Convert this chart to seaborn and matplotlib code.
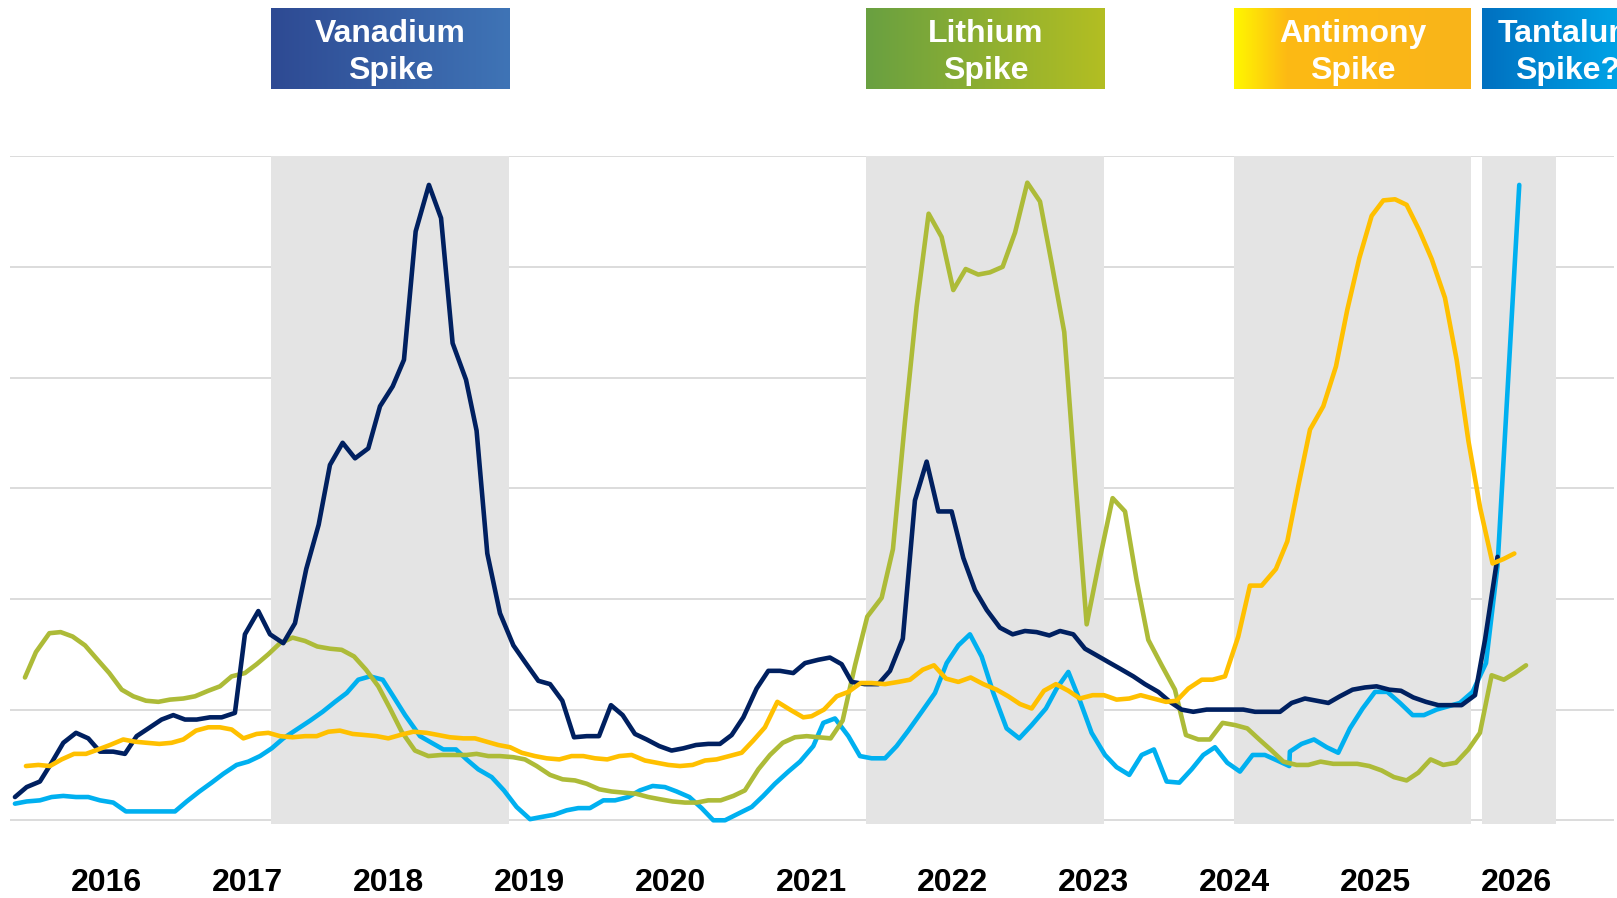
import numpy as np
import pandas as pd
import matplotlib
matplotlib.use("Agg")
import matplotlib.pyplot as plt
from matplotlib import font_manager
from matplotlib.colors import LinearSegmentedColormap
import seaborn as sns

# price index readings (x in fractional years, y in chart units 0..6)
vanadium_x = [2015.353, 2015.436, 2015.530, 2015.613, 2015.696, 2015.786, 2015.873, 2015.956,
              2016.050, 2016.133, 2016.216, 2016.299, 2016.393, 2016.476, 2016.559, 2016.642, 2016.736, 2016.819, 2016.913, 2016.984,
              2017.079, 2017.162, 2017.256, 2017.339, 2017.419, 2017.507, 2017.587, 2017.677, 2017.765, 2017.859, 2017.942,
              2018.032, 2018.112, 2018.195, 2018.289, 2018.375, 2018.457, 2018.552, 2018.627, 2018.703, 2018.793, 2018.888, 2018.970,
              2019.065, 2019.148, 2019.235, 2019.318, 2019.408, 2019.495, 2019.580, 2019.663, 2019.750, 2019.833, 2019.923,
              2020.010, 2020.093, 2020.183, 2020.270, 2020.353, 2020.436, 2020.519, 2020.613, 2020.696, 2020.779, 2020.873, 2020.956,
              2021.051, 2021.133, 2021.216, 2021.287, 2021.380, 2021.476, 2021.559, 2021.650, 2021.736, 2021.819, 2021.902, 2021.996,
              2022.079, 2022.162, 2022.245, 2022.339, 2022.429, 2022.516, 2022.599, 2022.689, 2022.765, 2022.859, 2022.942,
              2023.025, 2023.107, 2023.190, 2023.285, 2023.367, 2023.462, 2023.545, 2023.627, 2023.710, 2023.805, 2023.899, 2023.982,
              2024.065, 2024.148, 2024.230, 2024.325, 2024.408, 2024.502, 2024.585, 2024.668, 2024.750, 2024.840, 2024.928,
              2025.010, 2025.100, 2025.183, 2025.270, 2025.360, 2025.448, 2025.530, 2025.613, 2025.708, 2025.779, 2025.868]
vanadium_v = [0.21, 0.30, 0.35, 0.52, 0.70, 0.79, 0.74, 0.62,
              0.62, 0.60, 0.76, 0.83, 0.91, 0.95, 0.91, 0.91, 0.93, 0.93, 0.97, 1.68,
              1.89, 1.68, 1.60, 1.78, 2.27, 2.67, 3.21, 3.41, 3.27, 3.36, 3.74,
              3.92, 4.16, 5.32, 5.74, 5.44, 4.31, 3.98, 3.52, 2.41, 1.87, 1.58, 1.43,
              1.26, 1.23, 1.08, 0.75, 0.76, 0.76, 1.04, 0.95, 0.78, 0.73, 0.67,
              0.63, 0.65, 0.68, 0.69, 0.69, 0.77, 0.93, 1.19, 1.35, 1.35, 1.33, 1.42,
              1.45, 1.47, 1.41, 1.25, 1.23, 1.23, 1.35, 1.64, 2.89, 3.24, 2.79, 2.79,
              2.37, 2.08, 1.90, 1.74, 1.68, 1.71, 1.70, 1.67, 1.71, 1.68, 1.55,
              1.49, 1.43, 1.37, 1.30, 1.23, 1.16, 1.07, 1.00, 0.98, 1.00, 1.00, 1.00,
              1.00, 0.98, 0.98, 0.98, 1.06, 1.10, 1.08, 1.06, 1.12, 1.18, 1.20,
              1.21, 1.18, 1.17, 1.11, 1.07, 1.04, 1.04, 1.04, 1.13, 1.63, 2.38]

lithium_x = [2015.424, 2015.502, 2015.597, 2015.677, 2015.762, 2015.850, 2015.932,
             2016.022, 2016.110, 2016.192, 2016.282, 2016.370, 2016.452, 2016.547, 2016.630, 2016.724, 2016.807, 2016.890, 2016.984,
             2017.067, 2017.150, 2017.233, 2017.322, 2017.410, 2017.497, 2017.587, 2017.670, 2017.758, 2017.843, 2017.930,
             2018.013, 2018.096, 2018.190, 2018.285, 2018.379, 2018.474, 2018.556, 2018.627, 2018.710, 2018.793, 2018.887, 2018.970,
             2019.053, 2019.148, 2019.237, 2019.325, 2019.408, 2019.497, 2019.585, 2019.668, 2019.757, 2019.845, 2019.928,
             2020.017, 2020.105, 2020.188, 2020.270, 2020.358, 2020.448, 2020.530, 2020.625, 2020.708, 2020.798, 2020.885, 2020.968,
             2021.051, 2021.138, 2021.223, 2021.311, 2021.398, 2021.500, 2021.580, 2021.665, 2021.748, 2021.833, 2021.925,
             2022.008, 2022.096, 2022.185, 2022.268, 2022.358, 2022.446, 2022.533, 2022.623, 2022.706, 2022.795, 2022.875, 2022.954,
             2023.045, 2023.138, 2023.226, 2023.308, 2023.391, 2023.486, 2023.580, 2023.658, 2023.746, 2023.828, 2023.918,
             2024.006, 2024.093, 2024.178, 2024.266, 2024.349, 2024.443, 2024.526, 2024.613, 2024.703, 2024.786, 2024.873, 2024.958,
             2025.046, 2025.133, 2025.223, 2025.306, 2025.393, 2025.483, 2025.573, 2025.661, 2025.743, 2025.826, 2025.913, 2025.991,
             2026.070]
lithium_v = [1.29, 1.52, 1.69, 1.70, 1.66, 1.58, 1.46,
             1.33, 1.18, 1.12, 1.08, 1.07, 1.09, 1.10, 1.12, 1.17, 1.21, 1.30, 1.33,
             1.41, 1.50, 1.60, 1.65, 1.62, 1.57, 1.55, 1.54, 1.48, 1.36, 1.21,
             1.01, 0.80, 0.63, 0.58, 0.59, 0.59, 0.59, 0.60, 0.58, 0.58, 0.57, 0.55,
             0.49, 0.41, 0.37, 0.36, 0.33, 0.28, 0.26, 0.25, 0.24, 0.21, 0.19,
             0.17, 0.16, 0.16, 0.18, 0.18, 0.22, 0.27, 0.46, 0.59, 0.70, 0.75, 0.76,
             0.75, 0.74, 0.90, 1.40, 1.84, 2.01, 2.45, 3.60, 4.64, 5.48, 5.27,
             4.79, 4.98, 4.93, 4.95, 5.00, 5.31, 5.76, 5.59, 5.03, 4.41, 3.05, 1.77,
             2.35, 2.91, 2.79, 2.17, 1.63, 1.40, 1.18, 0.77, 0.73, 0.73, 0.88,
             0.86, 0.83, 0.73, 0.63, 0.53, 0.50, 0.50, 0.53, 0.51, 0.51, 0.51, 0.49,
             0.45, 0.39, 0.36, 0.43, 0.55, 0.50, 0.52, 0.64, 0.79, 1.31, 1.27, 1.33,
             1.40]

antimony_x = [2015.431, 2015.519, 2015.601, 2015.684, 2015.772, 2015.857, 2015.944,
              2016.027, 2016.121, 2016.204, 2016.287, 2016.377, 2016.464, 2016.547, 2016.637, 2016.724, 2016.807, 2016.890, 2016.973,
              2017.067, 2017.150, 2017.233, 2017.322, 2017.410, 2017.493, 2017.576, 2017.658, 2017.748, 2017.835, 2017.918,
              2018.001, 2018.084, 2018.178, 2018.273, 2018.356, 2018.438, 2018.533, 2018.616, 2018.698, 2018.781, 2018.864, 2018.947,
              2019.041, 2019.124, 2019.214, 2019.301, 2019.384, 2019.467, 2019.554, 2019.639, 2019.727, 2019.821, 2019.904, 2019.987,
              2020.069, 2020.159, 2020.247, 2020.329, 2020.419, 2020.507, 2020.589, 2020.672, 2020.760, 2020.849, 2020.944,
              2021.003, 2021.091, 2021.181, 2021.264, 2021.351, 2021.429, 2021.524, 2021.618, 2021.701, 2021.791, 2021.871, 2021.956,
              2022.044, 2022.131, 2022.221, 2022.315, 2022.398, 2022.481, 2022.564, 2022.651, 2022.736, 2022.824, 2022.906, 2022.996,
              2023.077, 2023.166, 2023.256, 2023.337, 2023.426, 2023.516, 2023.592, 2023.675, 2023.770, 2023.847, 2023.935,
              2024.029, 2024.112, 2024.195, 2024.296, 2024.377, 2024.455, 2024.538, 2024.632, 2024.722, 2024.802, 2024.888, 2024.975,
              2025.058, 2025.141, 2025.223, 2025.313, 2025.401, 2025.495, 2025.578, 2025.661, 2025.745, 2025.833, 2025.910, 2025.987]
antimony_v = [0.49, 0.50, 0.49, 0.55, 0.60, 0.60, 0.64,
              0.68, 0.73, 0.71, 0.70, 0.69, 0.70, 0.73, 0.81, 0.84, 0.84, 0.82, 0.74,
              0.78, 0.79, 0.76, 0.75, 0.76, 0.76, 0.80, 0.81, 0.78, 0.77, 0.76,
              0.74, 0.77, 0.80, 0.79, 0.77, 0.75, 0.74, 0.74, 0.71, 0.68, 0.66, 0.61,
              0.58, 0.56, 0.55, 0.58, 0.58, 0.56, 0.55, 0.58, 0.59, 0.54, 0.52, 0.50,
              0.49, 0.50, 0.54, 0.55, 0.58, 0.61, 0.72, 0.84, 1.07, 1.00, 0.93,
              0.94, 1.00, 1.12, 1.16, 1.24, 1.24, 1.23, 1.25, 1.27, 1.36, 1.40, 1.28,
              1.25, 1.29, 1.23, 1.18, 1.12, 1.05, 1.01, 1.17, 1.23, 1.17, 1.10, 1.13,
              1.13, 1.09, 1.10, 1.13, 1.10, 1.07, 1.08, 1.19, 1.27, 1.27, 1.30,
              1.66, 2.12, 2.12, 2.27, 2.52, 3.02, 3.53, 3.74, 4.10, 4.61, 5.08, 5.46,
              5.60, 5.61, 5.56, 5.33, 5.07, 4.72, 4.16, 3.43, 2.82, 2.32, 2.36, 2.41]

tantalum_x = [2015.353, 2015.436, 2015.530, 2015.613, 2015.696, 2015.786, 2015.873, 2015.956,
              2016.050, 2016.140, 2016.221, 2016.311, 2016.405, 2016.488, 2016.571, 2016.661, 2016.748, 2016.831, 2016.925,
              2017.008, 2017.091, 2017.174, 2017.256, 2017.351, 2017.446, 2017.535, 2017.623, 2017.706, 2017.788, 2017.871, 2017.961,
              2018.036, 2018.120, 2018.226, 2018.308, 2018.391, 2018.481, 2018.556, 2018.639, 2018.734, 2018.821, 2018.911,
              2019.006, 2019.088, 2019.176, 2019.266, 2019.348, 2019.431, 2019.526, 2019.609, 2019.703, 2019.786, 2019.876, 2019.963,
              2020.046, 2020.136, 2020.223, 2020.306, 2020.389, 2020.483, 2020.578, 2020.660, 2020.743, 2020.838, 2020.921,
              2021.015, 2021.086, 2021.169, 2021.264, 2021.346, 2021.429, 2021.524, 2021.606, 2021.689, 2021.784, 2021.878, 2021.961,
              2022.044, 2022.126, 2022.209, 2022.292, 2022.386, 2022.476, 2022.564, 2022.665, 2022.741, 2022.824, 2022.906, 2022.989,
              2023.084, 2023.166, 2023.256, 2023.344, 2023.431, 2023.521, 2023.611, 2023.698, 2023.781, 2023.864, 2023.951,
              2024.041, 2024.131, 2024.218, 2024.306, 2024.391, 2024.395, 2024.478, 2024.566, 2024.656, 2024.738, 2024.821, 2024.911, 2024.999,
              2025.086, 2025.176, 2025.266, 2025.346, 2025.436, 2025.519, 2025.601, 2025.691, 2025.786, 2025.868, 2026.022]
tantalum_v = [0.15, 0.17, 0.18, 0.21, 0.22, 0.21, 0.21, 0.18,
              0.16, 0.08, 0.08, 0.08, 0.08, 0.08, 0.17, 0.26, 0.34, 0.42, 0.50,
              0.53, 0.58, 0.65, 0.74, 0.82, 0.90, 0.98, 1.07, 1.15, 1.27, 1.30, 1.27,
              1.12, 0.95, 0.76, 0.70, 0.64, 0.64, 0.55, 0.46, 0.39, 0.27, 0.12,
              0.01, 0.03, 0.05, 0.09, 0.11, 0.11, 0.18, 0.18, 0.21, 0.27, 0.31, 0.30,
              0.26, 0.21, 0.11, 0.00, 0.00, 0.06, 0.12, 0.22, 0.33, 0.44, 0.53,
              0.67, 0.88, 0.92, 0.76, 0.58, 0.56, 0.56, 0.67, 0.81, 0.98, 1.15, 1.42,
              1.58, 1.68, 1.48, 1.15, 0.83, 0.74, 0.86, 1.01, 1.19, 1.34, 1.08, 0.79,
              0.59, 0.48, 0.41, 0.59, 0.64, 0.35, 0.34, 0.46, 0.59, 0.66, 0.52,
              0.44, 0.59, 0.59, 0.54, 0.49, 0.62, 0.69, 0.73, 0.66, 0.61, 0.83, 1.01, 1.16,
              1.16, 1.06, 0.95, 0.95, 1.00, 1.03, 1.06, 1.16, 1.42, 2.30, 5.74]

years = list(range(2016, 2027))

# shaded spike windows and their header boxes
spike_names = ["Vanadium\nSpike", "Lithium\nSpike", "Antimony\nSpike", "Tantalum\nSpike?"]
spike_start = [2017.17, 2021.39, 2024.00, 2025.76]
spike_end = [2018.86, 2023.08, 2025.68, 2026.28]
box_end = [2018.86, 2023.08, 2025.68, 2026.97]
box_colors = [
    [(0.0, "#2E4A93"), (1.0, "#3F74B6")],
    [(0.0, "#69A041"), (1.0, "#B3BE22")],
    [(0.0, "#FFF700"), (0.22, "#FDBA14"), (1.0, "#F9B41A")],
    [(0.0, "#0070C0"), (1.0, "#00B0F0")],
]

line_colors = {"Vanadium": "#002060", "Lithium": "#ADBB38",
               "Antimony": "#FFC000", "Tantalum": "#00B0F0"}
draw_order = ["Tantalum", "Lithium", "Vanadium", "Antimony"]

frames = []
for name, xs, vs in [("Vanadium", vanadium_x, vanadium_v), ("Lithium", lithium_x, lithium_v),
                     ("Antimony", antimony_x, antimony_v), ("Tantalum", tantalum_x, tantalum_v)]:
    frames.append(pd.DataFrame({"year": xs, "value": vs, "metal": name}))
df = pd.concat(frames, ignore_index=True)

sns.set_style("white")
plt.rcParams["font.family"] = ["Liberation Sans", "DejaVu Sans"]

try:
    font_manager.findfont("Liberation Sans Narrow", fallback_to_default=False)
    box_font, box_size = "Liberation Sans Narrow", 27
except ValueError:
    box_font, box_size = "Liberation Sans", 23

fig = plt.figure(figsize=(16.17, 8.98), dpi=100)
ax = fig.add_axes([0.00637, 0.08285, 0.99178, 0.7433])

for g in range(7):
    ax.axhline(g, color="#D9D9D9", lw=1.3, zorder=0)

for x0, x1 in zip(spike_start, spike_end):
    ax.fill_between([x0, x1], -0.03, 6.015, color="#E4E4E4", lw=0, zorder=1)

sns.lineplot(data=df, x="year", y="value", hue="metal", hue_order=draw_order,
             palette=line_colors, estimator=None, sort=False, legend=False,
             linewidth=3.3, ax=ax, zorder=3, solid_capstyle="round", solid_joinstyle="round")

ax.set_xlim(2015.320, 2026.694)
ax.set_ylim(-0.03, 6.0)
ax.set_xlabel("")
ax.set_ylabel("")
ax.set_yticks([])
ax.set_xticks(years)
ax.set_xticklabels([str(y) for y in years], fontsize=23, fontweight="bold", color="black")
ax.tick_params(axis="x", length=0, pad=32)
for s in ax.spines.values():
    s.set_visible(False)

# header boxes with gradient fill, placed above the plot area
to_fig = fig.transFigure.inverted()
grad = np.linspace(0, 1, 256).reshape(1, -1)
for name, x0, x1, stops in zip(spike_names, spike_start, box_end, box_colors):
    fx0, fy0 = to_fig.transform(ax.transData.transform((x0, 6.609)))
    fx1, fy1 = to_fig.transform(ax.transData.transform((x1, 7.336)))
    bax = fig.add_axes([fx0, fy0, fx1 - fx0, fy1 - fy0])
    cmap = LinearSegmentedColormap.from_list("g", stops)
    bax.imshow(grad, aspect="auto", cmap=cmap, extent=[0, 1, 0, 1])
    bax.set_axis_off()
    bax.text(0.5, 0.45, name, ha="center", va="center", color="white",
             fontsize=box_size, fontweight="bold", family=[box_font, "DejaVu Sans"],
             linespacing=1.3, transform=bax.transAxes)

fig.savefig("out.png", dpi=100)
